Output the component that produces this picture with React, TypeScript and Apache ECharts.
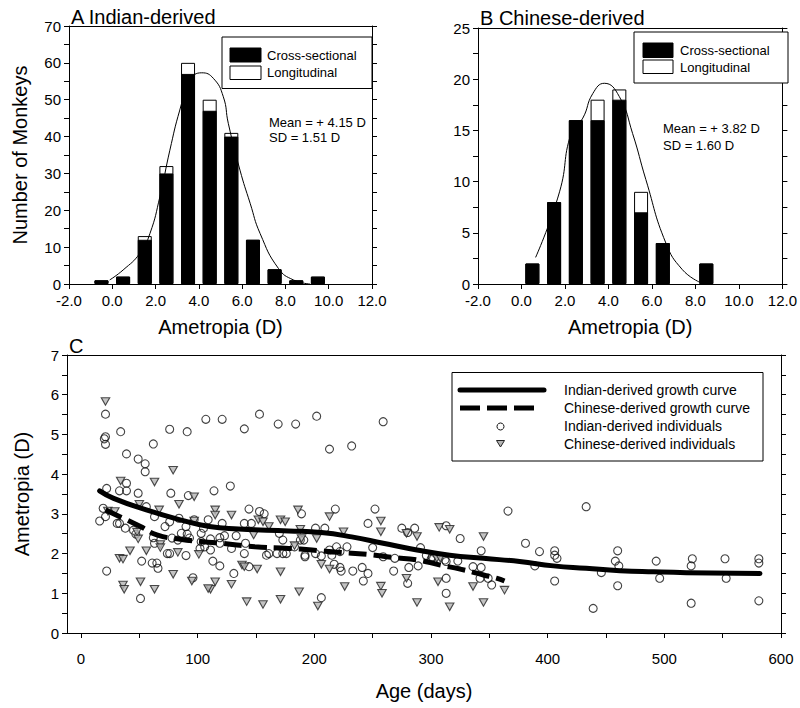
import React, { useEffect, useRef } from "react";
import * as echarts from "echarts";

const FONT = "'Liberation Sans', Arial, Helvetica, sans-serif";

// Histogram bins (bin centres, dioptres)
const binCenters = [-0.5, 0.5, 1.5, 2.5, 3.5, 4.5, 5.5, 6.5, 7.5, 8.5, 9.5];
// Panel A – Indian-derived
const indianCross = [1, 2, 12, 30, 57, 47, 40, 12, 4, 1, 2];
const indianTotal = [1, 2, 13, 32, 60, 50, 41, 12, 4, 1, 2];
// Panel B – Chinese-derived
const chineseCross = [0, 2, 8, 16, 16, 18, 7, 4, 0, 2, 0];
const chineseTotal = [0, 2, 8, 16, 18, 19, 9, 4, 0, 2, 0];

// Fitted normal curves
const indianCurveX = [-0.12, 0.5, 1.27, 1.74, 2.2, 2.66, 3.12, 3.59, 4.13, 4.67, 5.13, 5.36, 5.9, 6.37, 6.83, 7.68, 8.37, 9.14];
const indianCurveY = [1.1, 3.8, 8.3, 13.7, 23.7, 36.3, 47.2, 55.3, 57.3, 55.8, 50.8, 43.6, 30.9, 21.9, 13.7, 4.2, 1.1, 0];
const chineseCurveX = [0.65, 1.75, 2.28, 2.82, 3.28, 3.81, 4.5, 5.11, 5.72, 6.64, 7.4, 8.17];
const chineseCurveY = [2.6, 9.0, 14.7, 16.2, 18.6, 19.6, 18.3, 14.7, 10.2, 4.0, 1.4, 0.2];

// Panel C – individuals [age (days), ametropia (D)]
const indianIndividuals: number[][] = [
  [21, 5.51], [34, 5.07], [21, 4.94], [20, 4.89], [21, 4.75], [76, 5.13], [91, 5.07], [107, 5.38], [62, 4.76],
  [39, 4.51], [49, 4.38], [55, 4.26], [55, 4.06], [39, 3.77], [22, 3.64], [33, 3.58], [39, 3.58], [49, 3.52],
  [77, 3.52], [92, 3.46], [153, 5.51], [121, 5.38], [140, 5.14], [169, 5.26], [184, 5.26], [202, 5.46],
  [114, 3.58], [128, 3.7],
  [213, 4.63], [232, 4.71], [144, 3.12], [153, 3.06], [157, 3.0], [189, 3.0], [218, 3.12], [121, 2.76],
  [140, 2.76], [146, 2.76], [201, 2.64], [209, 2.64], [170, 2.51], [173, 2.34], [119, 2.4], [123, 2.45],
  [133, 2.45], [111, 2.37], [119, 2.26], [111, 2.09], [129, 2.13], [141, 2.26], [140, 2.0], [159, 1.96],
  [161, 2.0], [168, 2.0], [173, 2.0], [176, 2.0], [183, 2.17], [192, 1.92], [201, 2.0], [206, 1.94],
  [213, 2.09], [215, 1.96], [219, 2.17], [222, 2.05], [228, 2.17], [113, 1.81], [119, 1.69], [131, 1.5],
  [144, 1.67], [217, 1.73], [222, 1.65], [223, 1.56], [233, 1.56], [206, 0.89],
  [19, 3.14], [56, 3.18], [21, 2.93], [16, 2.82], [31, 2.76], [33, 2.76], [38, 2.64], [45, 2.59], [63, 2.93],
  [72, 2.68], [76, 2.8], [84, 2.89], [90, 2.68], [97, 2.85], [105, 2.64], [103, 2.51], [47, 2.49], [62, 2.4],
  [63, 2.26], [78, 2.39], [83, 2.34], [86, 2.51], [91, 2.49], [93, 2.39], [103, 2.3], [106, 2.17], [74, 2.0],
  [76, 2.0], [90, 1.95], [102, 2.13], [52, 1.81], [61, 1.76], [65, 1.76], [66, 1.63], [22, 1.56], [96, 1.39],
  [51, 0.87], [109, 2.85],
  [259, 5.32], [252, 3.12], [366, 3.07], [246, 2.76], [275, 2.64], [280, 2.53], [286, 2.64], [313, 2.7],
  [325, 2.38], [343, 2.07], [250, 2.15], [291, 2.15], [301, 1.92], [312, 1.84], [313, 1.8], [323, 1.81],
  [336, 1.67], [343, 1.65], [259, 1.92], [269, 1.88], [281, 1.65], [289, 1.69], [241, 1.65], [246, 1.5],
  [242, 1.31], [268, 1.56], [280, 1.25], [313, 1.38], [342, 1.38], [349, 1.38], [352, 1.21], [313, 1.0],
  [188, 2.34], [191, 2.34], [192, 1.96], [296, 1.95], [300, 1.85],
  [433, 3.18], [381, 2.26], [393, 2.05], [389, 1.69], [406, 2.07], [406, 1.96], [408, 1.88], [406, 1.31],
  [439, 0.62], [446, 1.52], [458, 1.81], [460, 2.07], [461, 1.69], [460, 1.19], [493, 1.81], [496, 1.38],
  [523, 1.69], [524, 1.87], [523, 0.75], [552, 1.87], [553, 1.38], [581, 1.76], [581, 1.87], [581, 0.81],
];
const chineseIndividuals: number[][] = [
  [21, 5.83], [79, 4.1], [63, 3.8], [34, 3.83], [97, 3.43],
  [115, 3.1], [115, 2.97], [129, 2.97], [152, 2.85], [156, 2.8], [171, 2.85], [175, 2.8], [186, 3.1],
  [213, 2.93], [161, 2.68], [225, 2.55], [188, 2.61], [189, 2.38], [202, 2.38], [148, 2.47], [183, 2.2],
  [138, 1.71], [140, 1.67], [151, 1.61], [171, 1.54], [206, 1.73], [213, 1.61], [115, 1.29], [111, 1.1],
  [129, 1.23], [187, 1.04], [226, 1.17], [142, 0.79], [156, 0.72], [171, 0.85], [203, 0.68],
  [23, 3.07], [29, 3.06], [50, 3.24], [67, 3.1], [84, 3.24], [97, 2.82], [48, 2.54], [49, 2.37], [68, 2.23],
  [68, 2.15], [83, 2.03], [101, 1.98], [42, 2.07], [56, 2.07], [33, 1.88], [36, 1.86], [79, 1.48], [95, 1.31],
  [36, 1.21], [37, 1.1], [51, 1.29], [63, 1.1], [109, 1.12],
  [257, 2.82], [257, 2.55], [279, 2.51], [288, 2.43], [307, 2.66], [316, 2.61], [345, 2.43], [305, 1.88],
  [308, 1.88], [279, 1.38], [306, 1.29], [336, 1.17], [363, 1.08], [257, 1.18], [258, 1.0], [288, 0.77],
  [316, 0.66], [345, 0.77],
];

// Growth curves
const indianGrowthAge = [16, 28, 56, 85, 110, 135, 178, 206, 232, 259, 288, 316, 345, 376, 405, 433, 462, 491, 519, 582];
const indianGrowthVal = [3.58, 3.39, 3.1, 2.85, 2.68, 2.62, 2.57, 2.53, 2.42, 2.26, 2.09, 1.96, 1.88, 1.8, 1.69, 1.63, 1.57, 1.54, 1.52, 1.5];
const chineseGrowthAge = [21, 51, 65, 85, 105, 121, 149, 178, 198, 221, 245, 268, 288, 308, 325, 345, 356, 363];
const chineseGrowthVal = [3.1, 2.68, 2.47, 2.36, 2.3, 2.26, 2.17, 2.13, 2.09, 2.03, 1.98, 1.9, 1.84, 1.71, 1.61, 1.46, 1.38, 1.31];

const histXTicks = { min: -2, max: 12, interval: 2 };
const ageTicks = [0, 50, 100, 150, 200, 250, 300, 350, 400, 450, 500, 550, 600];
const ageLabels = [0, 100, 200, 300, 400, 500, 600];

const zip = (a: number[], b: number[]) => a.map((v, i) => [v, b[i]]);
const nz = (a: number[]) => a.map((v, i) => (v > 0 ? [binCenters[i], v] : [binCenters[i], "-"]));

const black = "#000";
const tickStyle = { show: true, inside: false, length: 5, lineStyle: { color: black, width: 1 } };
const lineStyle = { show: true, onZero: false, lineStyle: { color: black, width: 1 } };
const labelBase = { color: black, fontFamily: FONT };
const triFill = "#b4b4b4";
const triStroke = "#222";

function frameX(gridIndex: number, min: number, max: number) {
  return {
    type: "value", gridIndex, position: "top", min, max,
    axisLine: lineStyle, axisTick: { show: false }, axisLabel: { show: false }, splitLine: { show: false },
  };
}
function rightY(gridIndex: number, min: number, max: number, interval: number) {
  return {
    type: "value", gridIndex, position: "right", min, max, interval,
    axisLine: lineStyle, axisTick: tickStyle, axisLabel: { show: false }, splitLine: { show: false },
  };
}

export default function App() {
  const ref = useRef<HTMLDivElement>(null);
  useEffect(() => {
    const chart = echarts.init(ref.current!, null, { renderer: "svg" });
    const text = (x: number, y: number, t: string, size: number, align = "left") => ({
      type: "text", x, y, z: 100,
      style: { text: t, fontSize: size, fontFamily: FONT, fill: black, align, verticalAlign: "middle" },
    });
    const option: any = {
      animation: false,
      backgroundColor: "#fff",
      textStyle: { fontFamily: FONT },
      grid: [
        { left: 69, top: 26, width: 303, height: 258 },
        { left: 478, top: 28, width: 305, height: 256 },
        { left: 67, top: 355, width: 714, height: 278 },
      ],
      xAxis: [
        {
          type: "value", gridIndex: 0, position: "bottom", ...histXTicks,
          axisLine: lineStyle, axisTick: tickStyle, splitLine: { show: false },
          axisLabel: { ...labelBase, fontSize: 15, margin: 9, formatter: (v: number) => v.toFixed(1) },
          name: "Ametropia (D)", nameLocation: "middle", nameGap: 33,
          nameTextStyle: { ...labelBase, fontSize: 20 },
        },
        frameX(0, -2, 12),
        {
          type: "value", gridIndex: 1, position: "bottom", ...histXTicks,
          axisLine: lineStyle, axisTick: tickStyle, splitLine: { show: false },
          axisLabel: { ...labelBase, fontSize: 15, margin: 9, formatter: (v: number) => v.toFixed(1) },
          name: "Ametropia (D)", nameLocation: "middle", nameGap: 33,
          nameTextStyle: { ...labelBase, fontSize: 20 },
        },
        frameX(1, -2, 12),
        {
          type: "value", gridIndex: 2, position: "bottom", min: -12, max: 600,
          axisLine: lineStyle, axisTick: { ...tickStyle, customValues: ageTicks }, splitLine: { show: false },
          axisLabel: { ...labelBase, fontSize: 15, margin: 18, customValues: ageLabels },
          name: "Age (days)", nameLocation: "middle", nameGap: 48,
          nameTextStyle: { ...labelBase, fontSize: 20 },
        },
        frameX(2, -12, 600),
      ],
      yAxis: [
        {
          type: "value", gridIndex: 0, position: "left", min: 0, max: 70, interval: 5,
          axisLine: lineStyle, axisTick: tickStyle, splitLine: { show: false },
          axisLabel: { ...labelBase, fontSize: 15, margin: 8, formatter: (v: number) => (v % 10 === 0 ? String(v) : "") },
          name: "Number of Monkeys", nameLocation: "middle", nameGap: 39,
          nameTextStyle: { ...labelBase, fontSize: 20 },
        },
        rightY(0, 0, 70, 5),
        {
          type: "value", gridIndex: 1, position: "left", min: 0, max: 25, interval: 2.5,
          axisLine: lineStyle, axisTick: tickStyle, splitLine: { show: false },
          axisLabel: { ...labelBase, fontSize: 15, margin: 8, formatter: (v: number) => (v % 5 === 0 ? String(v) : "") },
        },
        rightY(1, 0, 25, 2.5),
        {
          type: "value", gridIndex: 2, position: "left", min: 0, max: 7, interval: 0.5,
          axisLine: lineStyle, axisTick: tickStyle, splitLine: { show: false },
          axisLabel: { ...labelBase, fontSize: 15, margin: 8, formatter: (v: number) => (Number.isInteger(v) ? String(v) : "") },
          name: "Ametropia (D)", nameLocation: "middle", nameGap: 35,
          nameTextStyle: { ...labelBase, fontSize: 20 },
        },
        rightY(2, 0, 7, 0.5),
      ],
      series: [
        {
          name: "Longitudinal A", type: "bar", xAxisIndex: 0, yAxisIndex: 0, data: nz(indianTotal),
          barWidth: 14, barGap: "-100%", itemStyle: { color: "#fff", borderColor: black, borderWidth: 1 }, z: 2,
        },
        {
          name: "Cross-sectional A", type: "bar", xAxisIndex: 0, yAxisIndex: 0, data: nz(indianCross),
          barWidth: 14, barGap: "-100%", itemStyle: { color: black, borderColor: black, borderWidth: 1 }, z: 3,
        },
        {
          name: "Normal A", type: "line", xAxisIndex: 0, yAxisIndex: 0, data: zip(indianCurveX, indianCurveY),
          smooth: true, showSymbol: false, lineStyle: { color: black, width: 1 }, z: 4,
        },
        {
          name: "Longitudinal B", type: "bar", xAxisIndex: 2, yAxisIndex: 2, data: nz(chineseTotal),
          barWidth: 14, barGap: "-100%", itemStyle: { color: "#fff", borderColor: black, borderWidth: 1 }, z: 2,
        },
        {
          name: "Cross-sectional B", type: "bar", xAxisIndex: 2, yAxisIndex: 2, data: nz(chineseCross),
          barWidth: 14, barGap: "-100%", itemStyle: { color: black, borderColor: black, borderWidth: 1 }, z: 3,
        },
        {
          name: "Normal B", type: "line", xAxisIndex: 2, yAxisIndex: 2, data: zip(chineseCurveX, chineseCurveY),
          smooth: true, showSymbol: false, lineStyle: { color: black, width: 1 }, z: 4,
        },
        {
          name: "Indian-derived individuals", type: "scatter", xAxisIndex: 4, yAxisIndex: 4, data: indianIndividuals,
          symbol: "circle", symbolSize: 8, itemStyle: { color: "rgba(0,0,0,0)", borderColor: "#111", borderWidth: 1.1 }, z: 2,
        },
        {
          name: "Chinese-derived individuals", type: "scatter", xAxisIndex: 4, yAxisIndex: 4, data: chineseIndividuals,
          symbol: "triangle", symbolRotate: 180, symbolSize: [8.5, 7.5],
          itemStyle: { color: triFill, borderColor: triStroke, borderWidth: 1.1 }, z: 2,
        },
        {
          name: "Indian-derived growth curve", type: "line", xAxisIndex: 4, yAxisIndex: 4,
          data: zip(indianGrowthAge, indianGrowthVal), smooth: true, showSymbol: false,
          lineStyle: { color: black, width: 5, cap: "round" }, z: 5,
        },
        {
          name: "Chinese-derived growth curve", type: "line", xAxisIndex: 4, yAxisIndex: 4,
          data: zip(chineseGrowthAge, chineseGrowthVal), smooth: true, showSymbol: false,
          lineStyle: { color: black, width: 5, type: [18, 7] }, z: 5,
        },
      ],
      graphic: [
        text(71, 17, "A Indian-derived", 20),
        text(480, 18, "B Chinese-derived", 20),
        text(69, 346, "C", 20),
        // Legend A
        { type: "rect", z: 100, shape: { x: 222, y: 37, width: 150, height: 51.5 }, style: { fill: "#fff", stroke: black, lineWidth: 1 } },
        { type: "rect", z: 101, shape: { x: 230, y: 48, width: 31, height: 14 }, style: { fill: black, stroke: black, lineWidth: 1 } },
        { type: "rect", z: 101, shape: { x: 230, y: 66, width: 31, height: 13.5 }, style: { fill: "#fff", stroke: black, lineWidth: 1 } },
        text(267, 55, "Cross-sectional", 13),
        text(267, 72.5, "Longitudinal", 13),
        text(269, 122, "Mean = + 4.15 D", 13),
        text(269, 137, "SD = 1.51 D", 13),
        // Legend B
        { type: "rect", z: 100, shape: { x: 634, y: 32, width: 154, height: 51 }, style: { fill: "#fff", stroke: black, lineWidth: 1 } },
        { type: "rect", z: 101, shape: { x: 643, y: 43, width: 30, height: 14.5 }, style: { fill: black, stroke: black, lineWidth: 1 } },
        { type: "rect", z: 101, shape: { x: 643, y: 60, width: 30, height: 13.5 }, style: { fill: "#fff", stroke: black, lineWidth: 1 } },
        text(680, 50, "Cross-sectional", 13),
        text(680, 67, "Longitudinal", 13),
        text(663, 128.5, "Mean = + 3.82 D", 13),
        text(663, 145, "SD = 1.60 D", 13),
        // Legend C
        { type: "rect", z: 100, shape: { x: 452, y: 372.5, width: 311, height: 88.5 }, style: { fill: "#fff", stroke: black, lineWidth: 1 } },
        { type: "line", z: 101, shape: { x1: 460, y1: 390, x2: 544, y2: 390 }, style: { stroke: black, lineWidth: 5, lineCap: "round" } },
        { type: "line", z: 101, shape: { x1: 460, y1: 408, x2: 534, y2: 408 }, style: { stroke: black, lineWidth: 5, lineDash: [20, 7] } },
        { type: "circle", z: 101, shape: { cx: 500.5, cy: 426.5, r: 3.5 }, style: { fill: "none", stroke: "#111", lineWidth: 1 } },
        {
          type: "polygon", z: 101, shape: { points: [[496.5, 440.5], [504.5, 440.5], [500.5, 447]] },
          style: { fill: triFill, stroke: triStroke, lineWidth: 1 },
        },
        text(564, 390, "Indian-derived growth curve", 14),
        text(564, 408, "Chinese-derived growth curve", 14),
        text(564, 426, "Indian-derived individuals", 14),
        text(564, 443.5, "Chinese-derived individuals", 14),
      ],
    };
    chart.setOption(option);
    return () => chart.dispose();
  }, []);
  return (
    <div
      ref={ref}
      style={{ position: "absolute", left: 0, top: 0, width: 800, height: 708, background: "#fff" }}
    />
  );
}
